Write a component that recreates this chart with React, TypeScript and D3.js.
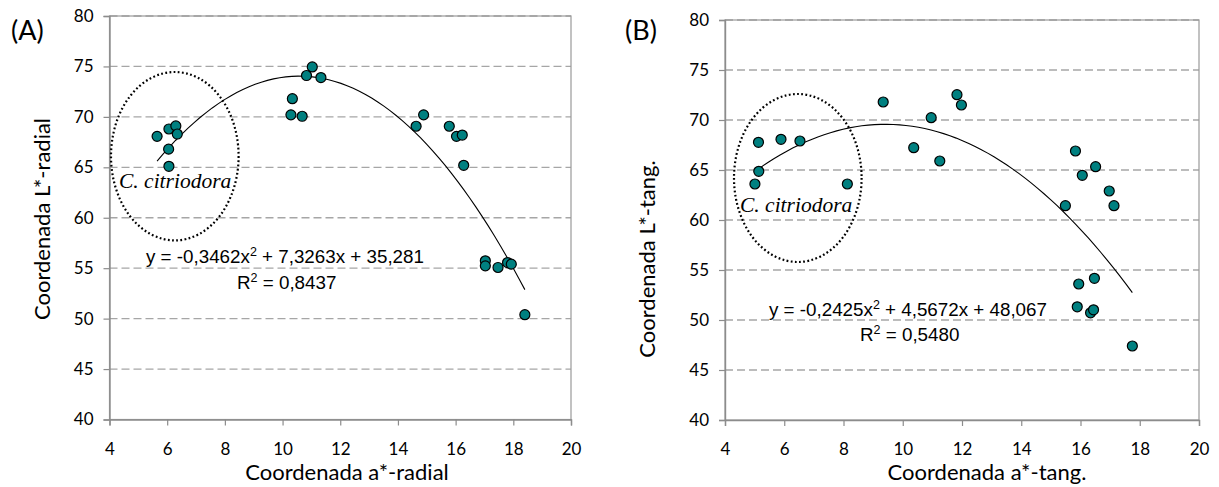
import React, { useEffect, useRef } from "react";
import * as d3 from "d3";

// values
const radialA = [5.65, 6.06, 6.3, 6.35, 6.05, 6.06, 10.34, 10.29, 10.68, 10.83, 11.03, 11.33, 14.63, 14.89, 15.78, 16.03, 16.23, 16.28, 17.03, 17.03, 17.47, 17.8, 17.93, 18.4];
const radialL = [68.07, 68.8, 69.1, 68.3, 66.8, 65.1, 71.8, 70.2, 70.06, 74.1, 74.95, 73.9, 69.07, 70.2, 69.07, 68.07, 68.2, 65.2, 55.73, 55.23, 55.07, 55.56, 55.4, 50.39];
const tangA = [5.01, 5.13, 5.14, 5.89, 6.53, 8.13, 9.34, 10.37, 10.96, 11.25, 11.83, 11.98, 15.49, 15.83, 15.89, 15.94, 16.06, 16.34, 16.44, 16.47, 16.51, 16.97, 17.13, 17.75];
const tangL = [63.6, 67.77, 64.87, 68.07, 67.9, 63.6, 71.8, 67.23, 70.23, 65.9, 72.53, 71.5, 61.43, 66.9, 51.32, 53.6, 64.47, 50.72, 51.02, 54.17, 65.33, 62.9, 61.43, 47.4];

// trendline coefficients (a, b, c) for y = a x^2 + b x + c
const coefRadial = [-0.3462, 7.3263, 35.281];
const coefTang = [-0.2425, 4.5672, 48.067];
const eqRadial = ["y = -0,3462x", "2", " + 7,3263x + 35,281"];
const eqTang = ["y = -0,2425x", "2", " + 4,5672x + 48,067"];
const r2Radial = "0,8437";
const r2Tang = "0,5480";

const xTicks = [4, 6, 8, 10, 12, 14, 16, 18, 20];
const yTicks = [40, 45, 50, 55, 60, 65, 70, 75, 80];

const panels = [
  {
    tag: "(A)", tagX: 11, xs: radialA, ys: radialL, coef: coefRadial, eq: eqRadial, r2: r2Radial,
    xTitle: "Coordenada a*-radial", yTitle: "Coordenada L*-radial",
    left: 109.5, right: 571, top: 16, bottom: 419.5,
    xTitleX: 347, yTitleX: 43, yTitleY: 219,
    eqX: 146, eqY: 263, r2X: 237, r2Y: 289,
    ell: { cx: 174.8, cy: 156.2, rx: 63.8, ry: 84.2 }, spX: 119, spY: 188,
  },
  {
    tag: "(B)", tagX: 625, xs: tangA, ys: tangL, coef: coefTang, eq: eqTang, r2: r2Tang,
    xTitle: "Coordenada a*-tang.", yTitle: "Coordenada L*-tang.",
    left: 725, right: 1199, top: 20, bottom: 420,
    xTitleX: 987, yTitleX: 648, yTitleY: 259,
    eqX: 769, eqY: 316, r2X: 860, r2Y: 341,
    ell: { cx: 797.8, cy: 178, rx: 63.8, ry: 84 }, spX: 740, spY: 212,
  },
];

const tickFont = "Lato, 'Open Sans', sans-serif";

const App = () => {
  const ref = useRef<SVGSVGElement>(null);

  useEffect(() => {
    const svg = d3.select(ref.current);
    svg.selectAll("*").remove();

    panels.forEach((p) => {
      const x = d3.scaleLinear().domain([4, 20]).range([p.left, p.right]);
      const y = d3.scaleLinear().domain([40, 80]).range([p.bottom, p.top]);
      const g = svg.append("g");

      // dashed gridlines
      g.selectAll(".grid")
        .data(yTicks.slice(1))
        .enter()
        .append("line")
        .attr("x1", p.left)
        .attr("x2", p.right)
        .attr("y1", (d) => y(d))
        .attr("y2", (d) => y(d))
        .attr("stroke", "#a6a6a6")
        .attr("stroke-width", 1.3)
        .attr("stroke-dasharray", "8,4");

      // plot border
      g.append("rect")
        .attr("x", p.left)
        .attr("y", p.top)
        .attr("width", p.right - p.left)
        .attr("height", p.bottom - p.top)
        .attr("fill", "none")
        .attr("stroke", "#9a9a9a")
        .attr("stroke-width", 1.2);

      // axes
      const xa = g.append("g")
        .attr("transform", `translate(0,${p.bottom})`)
        .call(d3.axisBottom(x).tickValues(xTicks).tickSize(6).tickPadding(17).tickFormat(d3.format("d")));
      const ya = g.append("g")
        .attr("transform", `translate(${p.left},0)`)
        .call(d3.axisLeft(y).tickValues(yTicks).tickSize(6).tickPadding(10).tickFormat(d3.format("d")));
      [xa, ya].forEach((a) => {
        a.select(".domain").attr("stroke", "#8c8c8c").attr("stroke-width", 1.4);
        a.selectAll(".tick line").attr("stroke", "#8c8c8c").attr("stroke-width", 1.2);
        a.selectAll(".tick text")
          .attr("font-family", tickFont)
          .attr("font-size", 17)
          .attr("fill", "#000");
      });

      // trendline
      const [a, b, c] = p.coef;
      const [x0, x1] = d3.extent(p.xs) as [number, number];
      const line = d3.line<number>().x((d) => x(d)).y((d) => y(a * d * d + b * d + c));
      g.append("path")
        .datum(d3.range(0, 61).map((i) => x0 + ((x1 - x0) * i) / 60))
        .attr("fill", "none")
        .attr("stroke", "#000")
        .attr("stroke-width", 1.1)
        .attr("d", line);

      // points
      g.selectAll(".pt")
        .data(p.xs.map((v, i) => [v, p.ys[i]]))
        .enter()
        .append("circle")
        .attr("cx", (d) => x(d[0]))
        .attr("cy", (d) => y(d[1]))
        .attr("r", 5)
        .attr("fill", "#008080")
        .attr("stroke", "#000")
        .attr("stroke-width", 1.2);

      // dotted ellipse
      g.append("ellipse")
        .attr("cx", p.ell.cx)
        .attr("cy", p.ell.cy)
        .attr("rx", p.ell.rx)
        .attr("ry", p.ell.ry)
        .attr("fill", "none")
        .attr("stroke", "#000")
        .attr("stroke-width", 2.2)
        .attr("stroke-dasharray", "1.8,2.4");

      g.append("text")
        .attr("x", p.spX)
        .attr("y", p.spY)
        .attr("font-family", "'Liberation Serif', serif")
        .attr("font-style", "italic")
        .attr("font-size", 21.5)
        .text("C. citriodora");

      // equation
      const eq = g.append("text")
        .attr("x", p.eqX)
        .attr("y", p.eqY)
        .attr("font-family", "'Liberation Sans', Arial, sans-serif")
        .attr("font-size", 18.8);
      eq.append("tspan").text(p.eq[0]);
      eq.append("tspan").attr("dy", -7).attr("font-size", 12.5).text(p.eq[1]);
      eq.append("tspan").attr("dy", 7).text(p.eq[2]);

      const r2 = g.append("text")
        .attr("x", p.r2X)
        .attr("y", p.r2Y)
        .attr("font-family", "'Liberation Sans', Arial, sans-serif")
        .attr("font-size", 18.8);
      r2.append("tspan").text("R");
      r2.append("tspan").attr("dy", -7).attr("font-size", 12.5).text("2");
      r2.append("tspan").attr("dy", 7).text(" = " + p.r2);

      // titles
      g.append("text")
        .attr("x", p.xTitleX)
        .attr("y", 480)
        .attr("text-anchor", "middle")
        .attr("font-family", tickFont)
        .attr("font-size", 22)
        .text(p.xTitle);
      g.append("text")
        .attr("transform", `translate(${p.yTitleX + 7},${p.yTitleY}) rotate(-90)`)
        .attr("text-anchor", "middle")
        .attr("font-family", tickFont)
        .attr("font-size", 22)
        .text(p.yTitle);

      g.append("text")
        .attr("x", p.tagX)
        .attr("y", 40)
        .attr("font-family", tickFont)
        .attr("font-size", 27)
        .text(p.tag);
    });
  }, []);

  return (
    <svg
      ref={ref}
      width={1219}
      height={487}
      style={{ position: "absolute", left: 0, top: 0, background: "#fff" }}
    />
  );
};

export default App;
